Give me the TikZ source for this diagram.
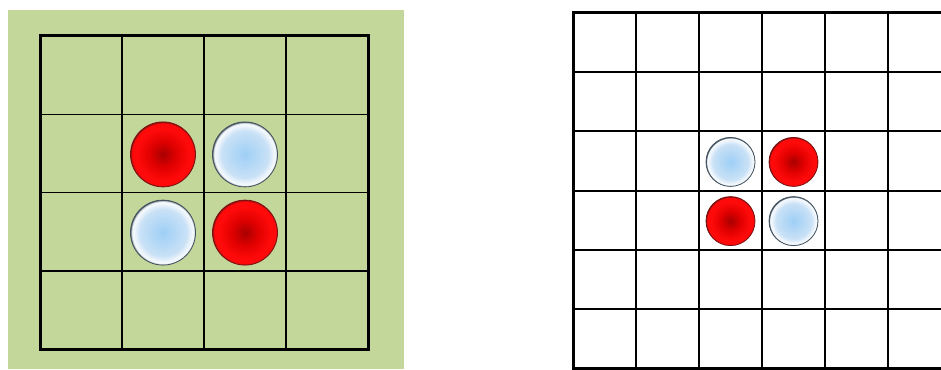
\documentclass[tikz,border=0pt]{standalone}
\definecolor{boardgreen}{HTML}{C4D79B}
\definecolor{redcore}{HTML}{A80000}
\definecolor{redmid}{HTML}{E00000}
\definecolor{redrim}{HTML}{FF0A0A}
\definecolor{rededge}{HTML}{7A1010}
\definecolor{bluecore}{HTML}{9ECFF6}
\definecolor{bluemid}{HTML}{C9E1F6}
\definecolor{bluerim}{HTML}{F2F7FC}
\definecolor{blueedge}{HTML}{43525E}
\pgfdeclareradialshading{redpiece}{\pgfpointorigin}{color(0bp)=(redcore); color(10bp)=(redmid); color(20bp)=(redrim); color(24bp)=(redrim); color(25bp)=(rededge); color(50bp)=(rededge)}
\pgfdeclareradialshading{bluepiece}{\pgfpointorigin}{color(0bp)=(bluecore); color(18bp)=(bluemid); color(22.5bp)=(bluerim); color(24bp)=(bluerim); color(25bp)=(blueedge); color(50bp)=(blueedge)}
\tikzset{
  redstone/.style={circle, inner sep=0pt, shading=redpiece, draw=rededge, line width=0.8pt},
  bluestone/.style={circle, inner sep=0pt, shading=bluepiece, draw=blueedge, line width=0.8pt},
  gridline/.style={black, line width=1.5pt},
  outline/.style={black, line width=3pt},
}
\begin{document}
\begin{tikzpicture}[x=1pt, y=-1pt]
\useasboundingbox (0,0) rectangle (941,369);
\clip (0,0) rectangle (941,369);
\fill[white] (0,0) rectangle (941,369);
% left board
\fill[boardgreen] (8,10) rectangle (404,369);
\foreach \i in {1,2,3} {
  \draw[gridline] ({40+82*\i},36) -- ({40+82*\i},349);
  \draw[gridline] (40,{36+78.25*\i}) -- (368,{36+78.25*\i});
}
\draw[outline] (40,36) rectangle (368,349);
\node[redstone, minimum size=65pt] (la) at (163,154.4) {};
\node[bluestone, minimum size=65pt] (lb) at (245,154.4) {};
\node[bluestone, minimum size=65pt] (lc) at (163,232.6) {};
\node[redstone, minimum size=65pt] (ld) at (245,232.6) {};
% right board
\foreach \i in {1,...,5} {
  \draw[black, line width=2pt] ({573+63*\i},13) -- ({573+63*\i},368);
  \draw[black, line width=2pt] (573,{13+59.17*\i}) -- (951,{13+59.17*\i});
}
\draw[outline] (573,13) rectangle (951,368);
\node[bluestone, minimum size=49pt] (ra) at (730.5,161.9) {};
\node[redstone, minimum size=49pt] (rb) at (793.5,161.9) {};
\node[redstone, minimum size=49pt] (rc) at (730.5,221.1) {};
\node[bluestone, minimum size=49pt] (rd) at (793.5,221.1) {};
\end{tikzpicture}
\end{document}
